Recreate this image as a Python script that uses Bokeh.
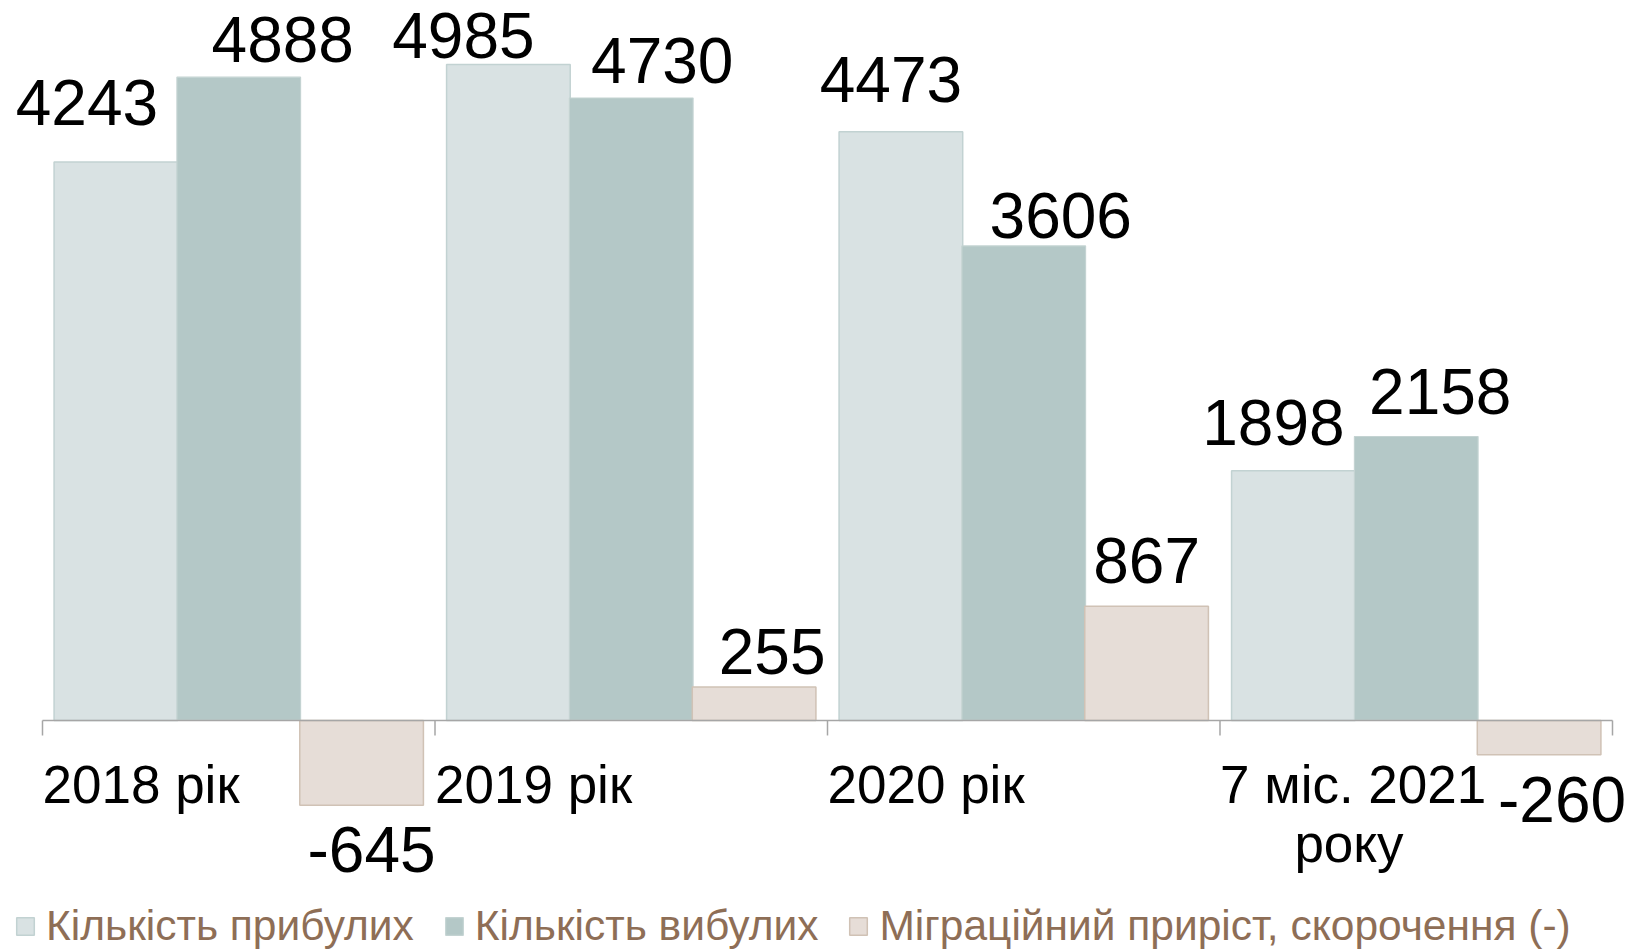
import numpy as np
from bokeh.plotting import figure
from bokeh.models import ColumnDataSource, Range1d, Legend, LegendItem
from bokeh.transform import dodge
from bokeh.core.properties import value
from bokeh.embed import file_html
from bokeh.resources import INLINE

# ---------------- data ----------------
categories = ["2018 рік", "2019 рік", "2020 рік", "7 міс. 2021\nроку"]
arrived = [4243, 4985, 4473, 1898]
departed = [4888, 4730, 3606, 2158]
migration = [-645, 255, 867, -260]
series_names = ["Кількість прибулих", "Кількість вибулих",
                "Міграційний приріст, скорочення (-)"]

# ---------------- layout / style ----------------
FONT = "Liberation Sans"
C_ARR, C_ARR_L = "#D9E2E3", "#C2D2D2"
C_DEP, C_DEP_L = "#B4C8C7", "#C4D3D2"
C_MIG, C_MIG_L = "#E6DDD7", "#D0C2B5"
LEG_COLOR = "#8E6E56"
AXIS_COLOR = "#A6A6A6"

W, H = 1641, 950
BAR_W = 0.315
OFFS = [-0.313, 0.0, 0.313]
VAL_FS = 64
CAT_FS = 53
# correction for the renderer's alphabetic-baseline placement
VAL_CORR = 21
CAT_CORR = 19

# per-label pixel nudges (x shift, gap from bar end to baseline)
arr_dx = [-29, -45, -10, -20]
arr_gap = [39, 8, 31, 27]
dep_dx = [44, 31, 37, 24]
dep_gap = [17, 17, 9, 24]
mig_dx = [10, 18, 0, 23]
mig_gap = [65, 14, 25, 66]

n = len(categories)
idx = np.arange(n)

p = figure(width=W, height=H, output_backend="svg", toolbar_location=None,
           x_axis_location=None, y_axis_location=None,
           x_range=Range1d(-0.6070, 3.5739), y_range=Range1d(-1748, 5471),
           min_border=0, min_border_left=0, min_border_right=0,
           min_border_top=0, min_border_bottom=0)
p.outline_line_color = None
p.background_fill_color = "white"
p.border_fill_color = "white"
p.grid.grid_line_color = None
p.grid.visible = False

src = ColumnDataSource(dict(
    x=idx,
    arr=arrived, dep=departed, mig=migration,
    arr_t=[str(v) for v in arrived],
    dep_t=[str(v) for v in departed],
    mig_t=[str(v) for v in migration],
    arr_dx=arr_dx, dep_dx=dep_dx, mig_dx=mig_dx,
    arr_dy=[-g - VAL_CORR for g in arr_gap],
    dep_dy=[-g - VAL_CORR for g in dep_gap],
    mig_dy=[(g if v < 0 else -g) - VAL_CORR for g, v in zip(mig_gap, migration)],
))

r1 = p.vbar(x=dodge("x", OFFS[0], range=p.x_range), top="arr", width=BAR_W,
            source=src, fill_color=C_ARR, line_color=C_ARR_L, line_width=1.5)
r2 = p.vbar(x=dodge("x", OFFS[1], range=p.x_range), top="dep", width=BAR_W,
            source=src, fill_color=C_DEP, line_color=C_DEP_L, line_width=1.2)
r3 = p.vbar(x=dodge("x", OFFS[2], range=p.x_range), top="mig", width=BAR_W,
            source=src, fill_color=C_MIG, line_color=C_MIG_L, line_width=1.5)

# category axis: baseline + boundary ticks
bounds = np.arange(n + 1) - 0.5
p.segment(x0=[bounds[0]], y0=[0], x1=[bounds[-1]], y1=[0],
          line_color=AXIS_COLOR, line_width=1.5)
p.ray(x=bounds, y=np.zeros(n + 1), length=15, length_units="screen",
      angle=-np.pi / 2, line_color=AXIS_COLOR, line_width=1.5)

# value labels
for col, t, dx, dy, off in [("arr", "arr_t", "arr_dx", "arr_dy", OFFS[0]),
                            ("dep", "dep_t", "dep_dx", "dep_dy", OFFS[1]),
                            ("mig", "mig_t", "mig_dx", "mig_dy", OFFS[2])]:
    p.text(x=dodge("x", off, range=p.x_range), y=col, text=t, source=src,
           x_offset=dx, y_offset=dy, text_align="center",
           text_baseline="alphabetic", text_font=value(FONT),
           text_font_size=f"{VAL_FS}px", text_color="black")

# category labels (left-aligned at the left boundary of each category)
line1 = [c.split("\n")[0] for c in categories]
line2 = [c.split("\n")[1] if "\n" in c else "" for c in categories]
p.text(x=bounds[:-1], y=np.zeros(n), text=line1, x_offset=0,
       y_offset=83 - CAT_CORR,
       text_align="left", text_baseline="alphabetic", text_font=value(FONT),
       text_font_size=f"{CAT_FS}px", text_color="black")
p.text(x=bounds[:-1], y=np.zeros(n), text=line2, x_offset=129,
       y_offset=142 - CAT_CORR,
       text_align="center", text_baseline="alphabetic", text_font=value(FONT),
       text_font_size=f"{CAT_FS}px", text_color="black")

legend = Legend(items=[LegendItem(label=series_names[0], renderers=[r1]),
                       LegendItem(label=series_names[1], renderers=[r2]),
                       LegendItem(label=series_names[2], renderers=[r3])],
                location=(14, 0), orientation="horizontal",
                glyph_width=22, glyph_height=22, label_standoff=10,
                spacing=29, padding=0, margin=0,
                label_text_font=FONT, label_text_font_size="42.5px",
                label_text_color=LEG_COLOR,
                border_line_color=None, background_fill_alpha=0)
p.add_layout(legend)

open("out.html", "w").write(file_html(p, INLINE))
